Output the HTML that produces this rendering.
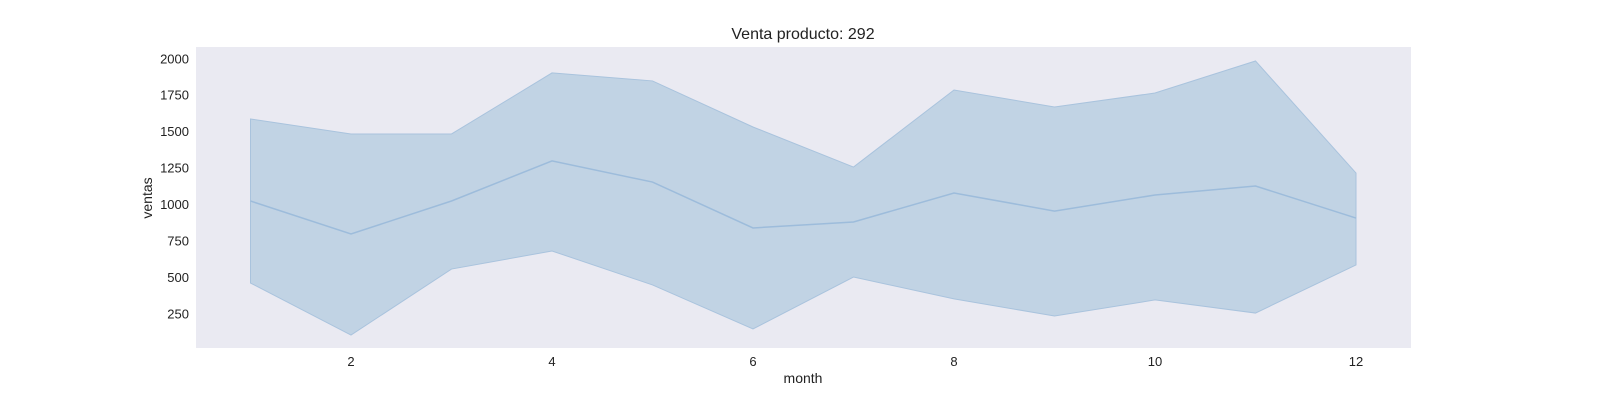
<!DOCTYPE html>
<html><head><meta charset="utf-8"><style>
body{margin:0;background:#fff;font-family:"Liberation Sans",sans-serif}
</style></head><body>
<svg width="1600" height="400" xmlns="http://www.w3.org/2000/svg" id="svg">
<rect x="0" y="0" width="1600" height="400" fill="#fff"/>
<rect x="196" y="47" width="1215" height="301" fill="#eaeaf2"/>
<text x="803" y="39" text-anchor="middle" font-size="16" fill="#222">Venta producto: 292</text>
<text x="803" y="383" text-anchor="middle" font-size="14" fill="#222">month</text>
<text x="152" y="198" text-anchor="middle" font-size="14" fill="#222" transform="rotate(-90 152 198)">ventas</text>
<g id="g"></g>
</svg>
<script>
const months=[1,2,3,4,5,6,7,8,9,10,11,12];
const meanVals=[1024,798,1024,1299,1154,839,880,1079,955,1065,1127,907];
const upperVals=[1587,1484,1484,1903,1848,1532,1257,1786,1669,1765,1985,1216];
const lowerVals=[461,104,557,681,448,146,502,352,235,345,255,585];
const xTicks=[2,4,6,8,10,12];
const yTicks=[250,500,750,1000,1250,1500,1750,2000];
const X=m=>250.5+(m-1)*100.5;
const Y=v=>204.5-(v-1000)*0.14571;
const g=document.getElementById('g');
const NS='http://www.w3.org/2000/svg';
function mk(t,a){const e=document.createElementNS(NS,t);for(const k in a)e.setAttribute(k,a[k]);g.appendChild(e);return e;}
xTicks.forEach(t=>{const e=mk('text',{x:X(t),y:366,'text-anchor':'middle','font-size':13,fill:'#222'});e.textContent=t;

});
yTicks.forEach(t=>{const e=mk('text',{x:189,y:Y(t)+4.5,'text-anchor':'end','font-size':13,fill:'#222'});e.textContent=t;

});
let pts=months.map((m,i)=>X(m)+','+Y(upperVals[i]));
for(let i=months.length-1;i>=0;i--)pts.push(X(months[i])+','+Y(lowerVals[i]));
const band=mk('polygon',{points:pts.join(' '),fill:'#c1d3e4',stroke:'#a9c3dd','stroke-width':1});


const line=mk('polyline',{points:months.map((m,i)=>X(m)+','+Y(meanVals[i])).join(' '),fill:'none',stroke:'#9dbcdb','stroke-width':1.5});


</script>
</body></html>
